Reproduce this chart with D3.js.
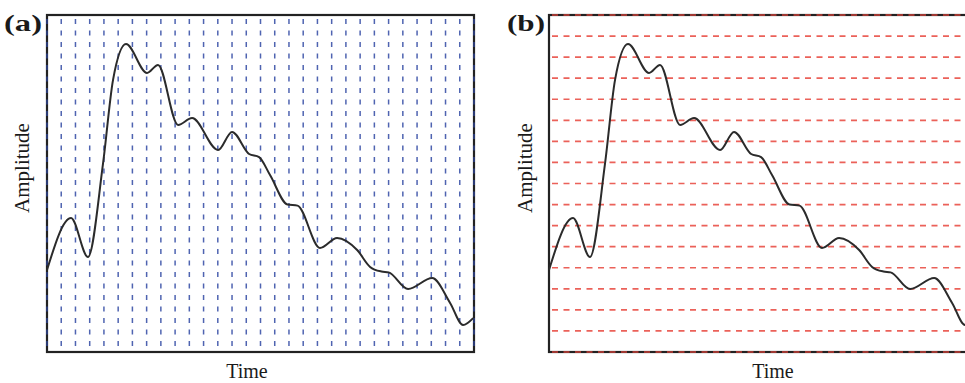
<!DOCTYPE html>
<html>
<head>
<meta charset="utf-8">
<script src="https://cdn.jsdelivr.net/npm/d3@7"></script>
<style>
  body { margin: 0; background: #fff; }
  svg { display: block; }
  text { font-family: "Liberation Serif", "DejaVu Serif", serif; fill: #1a1a1a; }
</style>
</head>
<body>
<svg id="chart" width="965" height="383"></svg>
<script>
// signal (time in grid cells, amplitude in grid rows)
var timeVals = [0, 1.69, 2.88, 3.94, 4.64, 5.55, 7.03, 7.8, 9.21, 10.19, 12.02, 13.0, 14.2, 14.9, 15.67, 16.9, 17.6, 19.18, 20.38, 21.79, 22.7, 23.5, 24.0, 25.37, 27.06, 28.32, 29.23, 29.94];
var ampVals  = [3.89, 6.36, 4.51, 8.97, 12.92, 14.62, 13.25, 13.63, 10.78, 11.11, 9.59, 10.45, 9.4, 9.25, 8.4, 7.0, 6.95, 4.94, 5.41, 4.84, 4.04, 3.82, 3.78, 2.99, 3.51, 2.33, 1.28, 1.61];

var panelLabels = ["(a)", "(b)"];
var xLabel = "Time";
var yLabel = "Amplitude";
var timeDomain = [0, 30];
var ampDomain = [0, 16];

var data = timeVals.map(function(t, i) { return { t: t, a: ampVals[i] }; });

var svg = d3.select("#chart");

var panels = [
    { label: panelLabels[0], left: 47, grid: "v", color: "#3049a3", labelX: 4, ampX: 29, timeX: 247 },
    { label: panelLabels[1], left: 549, grid: "h", color: "#e8453c", labelX: 507, ampX: 532, timeX: 773 }
];

var boxTop = 15, boxBottom = 352, boxW = 427;

function drawPanel(p) {
    var g = svg.append("g");

    var x = d3.scaleLinear().domain(timeDomain).range([p.left, p.left + boxW]);
    var y = d3.scaleLinear().domain(ampDomain).range([boxBottom, boxTop]);

    // frame
    g.append("rect")
        .attr("x", p.left)
        .attr("y", boxTop)
        .attr("width", boxW)
        .attr("height", boxBottom - boxTop)
        .attr("fill", "none")
        .attr("stroke", "#222")
        .attr("stroke-width", 2.2);

    // dashed grid
    if (p.grid === "v") {
        g.selectAll("line.grid")
            .data(x.ticks(30))
            .enter()
            .append("line")
            .classed("grid", true)
            .attr("x1", function(d) { return x(d); })
            .attr("x2", function(d) { return x(d); })
            .attr("y1", boxTop + 4)
            .attr("y2", boxBottom)
            .attr("stroke", p.color)
            .attr("stroke-width", 1.5)
            .attr("stroke-opacity", 0.85)
            .attr("stroke-dasharray", "5,6.5");
    } else {
        g.selectAll("line.grid")
            .data(y.ticks(16))
            .enter()
            .append("line")
            .classed("grid", true)
            .attr("x1", p.left + 3)
            .attr("x2", p.left + boxW)
            .attr("y1", function(d) { return y(d); })
            .attr("y2", function(d) { return y(d); })
            .attr("stroke", p.color)
            .attr("stroke-width", 1.7)
            .attr("stroke-opacity", 0.85)
            .attr("stroke-dasharray", "6,5.5");
    }

    // signal
    var line = d3.line()
        .x(function(d) { return x(d.t); })
        .y(function(d) { return y(d.a); })
        .curve(d3.curveMonotoneX);

    g.append("path")
        .datum(data)
        .attr("d", line)
        .attr("fill", "none")
        .attr("stroke", "#2b2b2b")
        .attr("stroke-width", 2);

    // texts
    g.append("text")
        .attr("x", p.labelX)
        .attr("y", 31)
        .attr("font-size", 24)
        .attr("font-weight", "bold")
        .attr("textLength", 38)
        .attr("lengthAdjust", "spacingAndGlyphs")
        .text(p.label);

    g.append("text")
        .attr("transform", "translate(" + p.ampX + "," + 168 + ") rotate(-90)")
        .attr("text-anchor", "middle")
        .attr("font-size", 21)
        .text(yLabel);

    g.append("text")
        .attr("x", p.timeX)
        .attr("y", 378)
        .attr("text-anchor", "middle")
        .attr("font-size", 20)
        .text(xLabel);
}

panels.forEach(drawPanel);
</script>
</body>
</html>
